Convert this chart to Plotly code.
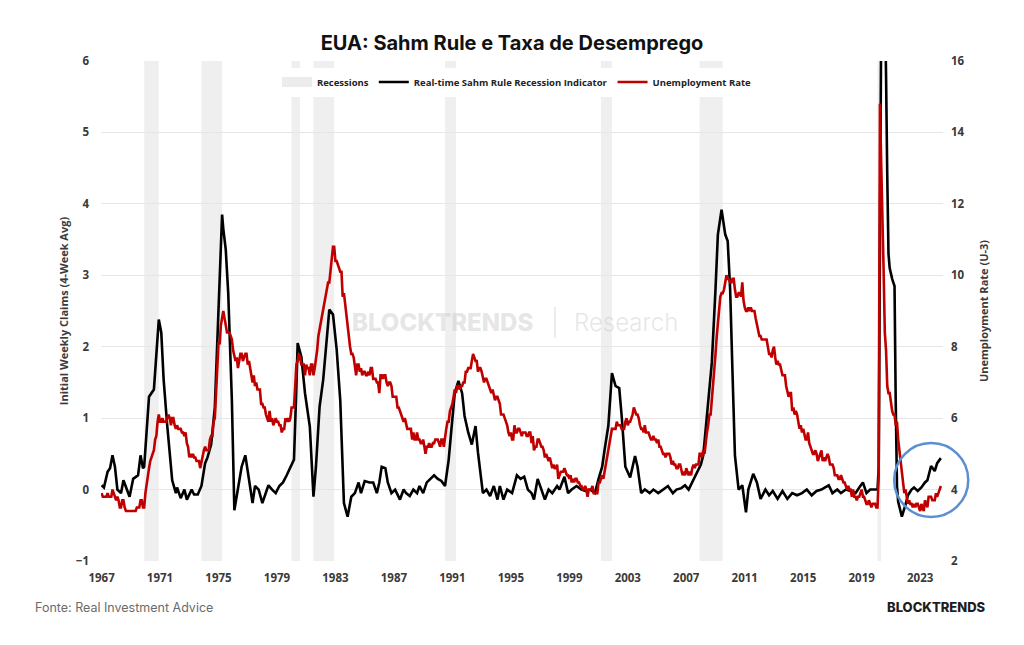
import plotly.graph_objects as go
import pandas as pd

# ---------------- data ----------------
title_text = "EUA: Sahm Rule e Taxa de Desemprego"

# Monthly unemployment rate (U-3), Jan 1967 .. Jun 2024
unemployment_start = "1967-01-01"
unemployment_rate = [
    3.9, 3.8, 3.8, 3.8, 3.8, 3.9, 3.8, 3.8, 3.8, 4.0, 3.9, 3.8,   # 1967
    3.7, 3.8, 3.7, 3.5, 3.5, 3.7, 3.7, 3.5, 3.4, 3.4, 3.4, 3.4,   # 1968
    3.4, 3.4, 3.4, 3.4, 3.4, 3.5, 3.5, 3.5, 3.7, 3.7, 3.5, 3.5,   # 1969
    3.9, 4.2, 4.4, 4.6, 4.8, 4.9, 5.0, 5.1, 5.4, 5.5, 5.9, 6.1,   # 1970
    5.9, 5.9, 6.0, 5.9, 5.9, 5.9, 6.0, 6.1, 6.0, 5.8, 6.0, 6.0,   # 1971
    5.8, 5.7, 5.8, 5.7, 5.7, 5.7, 5.6, 5.6, 5.5, 5.6, 5.3, 5.2,   # 1972
    4.9, 5.0, 4.9, 5.0, 4.9, 4.9, 4.8, 4.8, 4.8, 4.6, 4.8, 4.9,   # 1973
    5.1, 5.2, 5.1, 5.1, 5.1, 5.4, 5.5, 5.5, 5.9, 6.0, 6.6, 7.2,   # 1974
    8.1, 8.1, 8.6, 8.8, 9.0, 8.8, 8.6, 8.4, 8.4, 8.4, 8.3, 8.2,   # 1975
    7.9, 7.7, 7.6, 7.7, 7.4, 7.6, 7.8, 7.8, 7.6, 7.7, 7.8, 7.8,   # 1976
    7.5, 7.6, 7.4, 7.2, 7.0, 7.2, 6.9, 7.0, 6.8, 6.8, 6.8, 6.4,   # 1977
    6.4, 6.3, 6.3, 6.1, 6.0, 5.9, 6.2, 5.9, 6.0, 5.8, 5.9, 6.0,   # 1978
    5.9, 5.9, 5.8, 5.8, 5.6, 5.7, 5.7, 6.0, 5.9, 6.0, 5.9, 6.0,   # 1979
    6.3, 6.3, 6.3, 6.9, 7.5, 7.6, 7.8, 7.7, 7.5, 7.5, 7.5, 7.2,   # 1980
    7.5, 7.4, 7.4, 7.2, 7.5, 7.5, 7.2, 7.4, 7.6, 7.9, 8.3, 8.5,   # 1981
    8.6, 8.9, 9.0, 9.3, 9.4, 9.6, 9.8, 9.8, 10.1, 10.4, 10.8, 10.8,  # 1982
    10.4, 10.4, 10.3, 10.2, 10.1, 10.1, 9.4, 9.5, 9.2, 8.8, 8.5, 8.3,  # 1983
    8.0, 7.8, 7.8, 7.7, 7.4, 7.2, 7.5, 7.5, 7.3, 7.4, 7.2, 7.3,   # 1984
    7.3, 7.2, 7.2, 7.3, 7.2, 7.4, 7.4, 7.1, 7.1, 7.1, 7.0, 7.0,   # 1985
    6.7, 7.2, 7.2, 7.1, 7.2, 7.2, 7.0, 6.9, 7.0, 7.0, 6.9, 6.6,   # 1986
    6.6, 6.6, 6.6, 6.3, 6.3, 6.2, 6.1, 6.0, 5.9, 6.0, 5.8, 5.7,   # 1987
    5.7, 5.7, 5.7, 5.4, 5.6, 5.4, 5.4, 5.6, 5.4, 5.4, 5.3, 5.3,   # 1988
    5.4, 5.2, 5.0, 5.2, 5.2, 5.3, 5.2, 5.2, 5.3, 5.3, 5.4, 5.4,   # 1989
    5.4, 5.3, 5.2, 5.4, 5.4, 5.2, 5.5, 5.7, 5.9, 5.9, 6.2, 6.3,   # 1990
    6.4, 6.6, 6.8, 6.7, 6.9, 6.9, 6.8, 6.9, 6.9, 7.0, 7.0, 7.3,   # 1991
    7.3, 7.4, 7.4, 7.4, 7.6, 7.8, 7.7, 7.6, 7.6, 7.3, 7.4, 7.4,   # 1992
    7.3, 7.1, 7.0, 7.1, 7.1, 7.0, 6.9, 6.8, 6.7, 6.8, 6.6, 6.5,   # 1993
    6.6, 6.6, 6.5, 6.4, 6.1, 6.1, 6.1, 6.0, 5.9, 5.8, 5.6, 5.5,   # 1994
    5.6, 5.4, 5.4, 5.8, 5.6, 5.6, 5.7, 5.7, 5.6, 5.5, 5.6, 5.6,   # 1995
    5.6, 5.5, 5.5, 5.6, 5.6, 5.3, 5.5, 5.1, 5.2, 5.2, 5.4, 5.4,   # 1996
    5.3, 5.2, 5.2, 5.1, 4.9, 5.0, 4.9, 4.8, 4.9, 4.7, 4.6, 4.7,   # 1997
    4.6, 4.6, 4.7, 4.3, 4.4, 4.5, 4.5, 4.5, 4.6, 4.5, 4.4, 4.4,   # 1998
    4.3, 4.4, 4.2, 4.3, 4.2, 4.3, 4.3, 4.2, 4.2, 4.1, 4.1, 4.0,   # 1999
    4.0, 4.1, 4.0, 3.8, 4.0, 4.0, 4.0, 4.1, 3.9, 3.9, 3.9, 3.9,   # 2000
    4.2, 4.2, 4.3, 4.4, 4.3, 4.5, 4.6, 4.9, 5.0, 5.3, 5.5, 5.7,   # 2001
    5.7, 5.7, 5.7, 5.9, 5.8, 5.8, 5.8, 5.7, 5.7, 5.7, 5.9, 6.0,   # 2002
    5.8, 5.9, 5.9, 6.0, 6.1, 6.3, 6.2, 6.1, 6.1, 6.0, 5.8, 5.7,   # 2003
    5.7, 5.6, 5.8, 5.6, 5.6, 5.6, 5.5, 5.4, 5.4, 5.5, 5.4, 5.4,   # 2004
    5.3, 5.4, 5.2, 5.2, 5.1, 5.0, 5.0, 4.9, 5.0, 5.0, 5.0, 4.9,   # 2005
    4.7, 4.8, 4.7, 4.7, 4.6, 4.6, 4.7, 4.7, 4.5, 4.4, 4.5, 4.4,   # 2006
    4.6, 4.5, 4.4, 4.5, 4.4, 4.6, 4.7, 4.6, 4.7, 4.7, 4.7, 5.0,   # 2007
    5.0, 4.9, 5.1, 5.0, 5.4, 5.6, 5.8, 6.1, 6.1, 6.5, 6.8, 7.3,   # 2008
    7.8, 8.3, 8.7, 9.0, 9.4, 9.5, 9.5, 9.6, 9.8, 10.0, 9.9, 9.9,  # 2009
    9.8, 9.8, 9.9, 9.9, 9.6, 9.4, 9.4, 9.5, 9.5, 9.4, 9.8, 9.3,   # 2010
    9.1, 9.0, 9.0, 9.1, 9.0, 9.1, 9.0, 9.0, 9.0, 8.8, 8.6, 8.5,   # 2011
    8.3, 8.3, 8.2, 8.2, 8.2, 8.2, 8.2, 8.0, 7.8, 7.8, 7.7, 7.9,   # 2012
    8.0, 7.7, 7.5, 7.6, 7.5, 7.5, 7.3, 7.2, 7.2, 7.2, 6.9, 6.7,   # 2013
    6.6, 6.7, 6.7, 6.2, 6.3, 6.1, 6.2, 6.1, 5.9, 5.7, 5.8, 5.6,   # 2014
    5.7, 5.5, 5.4, 5.4, 5.6, 5.3, 5.2, 5.1, 5.0, 5.0, 5.1, 5.0,   # 2015
    4.8, 4.9, 5.0, 5.1, 4.8, 4.9, 4.8, 4.9, 5.0, 4.9, 4.7, 4.7,   # 2016
    4.7, 4.6, 4.4, 4.4, 4.4, 4.3, 4.3, 4.4, 4.3, 4.2, 4.2, 4.1,   # 2017
    4.0, 4.1, 4.0, 4.0, 3.8, 4.0, 3.8, 3.8, 3.7, 3.8, 3.8, 3.9,   # 2018
    4.0, 3.8, 3.8, 3.7, 3.6, 3.6, 3.7, 3.6, 3.5, 3.6, 3.6, 3.6,   # 2019
    3.5, 3.5, 4.4, 14.8, 13.2, 11.0, 10.2, 8.4, 7.9, 6.9, 6.7, 6.7,  # 2020
    6.4, 6.2, 6.1, 6.1, 5.8, 5.9, 5.4, 5.1, 4.7, 4.5, 4.2, 3.9,   # 2021
    4.0, 3.8, 3.6, 3.7, 3.6, 3.6, 3.5, 3.6, 3.5, 3.6, 3.6, 3.5,   # 2022
    3.4, 3.6, 3.5, 3.4, 3.7, 3.6, 3.5, 3.8, 3.8, 3.8, 3.7, 3.7,   # 2023
    3.7, 3.9, 3.8, 3.9, 4.0, 4.1,                                 # 2024
]

# Real-time Sahm Rule indicator
sahm_dates = [
    "1967-01", "1967-03", "1967-06", "1967-08", "1967-10", "1967-12",
    "1968-02", "1968-05", "1968-07", "1968-10", "1968-12",
    "1969-03", "1969-07", "1969-09", "1969-11", "1969-12",
    "1970-03", "1970-04", "1970-08", "1970-10", "1970-12",
    "1971-02", "1971-04", "1971-07", "1971-11",
    "1972-02", "1972-03", "1972-06", "1972-09", "1972-11",
    "1973-03", "1973-05", "1973-08", "1973-11",
    "1974-02", "1974-04", "1974-07", "1974-10",
    "1975-01", "1975-02", "1975-03", "1975-04", "1975-05", "1975-07", "1975-09", "1975-12",
    "1976-02", "1976-05", "1976-08", "1976-11",
    "1977-01", "1977-05", "1977-07", "1977-10",
    "1978-01", "1978-04", "1978-06", "1978-09", "1978-12",
    "1979-03", "1979-06", "1979-09", "1979-12",
    "1980-03", "1980-05", "1980-06", "1980-09", "1980-12",
    "1981-04", "1981-07", "1981-09", "1981-12",
    "1982-03", "1982-06", "1982-08", "1982-11",
    "1983-02", "1983-05", "1983-08", "1983-11",
    "1984-02", "1984-05", "1984-08", "1984-10",
    "1985-01", "1985-05", "1985-08", "1985-11",
    "1986-01", "1986-03", "1986-06", "1986-08", "1986-11",
    "1987-02", "1987-06", "1987-09", "1987-11",
    "1988-02", "1988-05", "1988-08", "1988-10",
    "1989-01", "1989-04", "1989-07", "1989-10",
    "1990-01", "1990-04", "1990-07", "1990-10", "1990-12",
    "1991-03", "1991-06", "1991-09", "1991-11",
    "1992-02", "1992-05", "1992-08", "1992-10",
    "1993-02", "1993-05", "1993-08", "1993-11",
    "1994-02", "1994-04", "1994-07", "1994-10",
    "1995-02", "1995-06", "1995-09", "1995-12",
    "1996-03", "1996-06", "1996-08", "1996-11",
    "1997-02", "1997-05", "1997-08", "1997-11",
    "1998-03", "1998-05", "1998-09", "1998-12",
    "1999-03", "1999-07", "1999-11",
    "2000-02", "2000-06", "2000-10",
    "2001-01", "2001-04", "2001-06", "2001-09", "2001-12",
    "2002-03", "2002-06", "2002-08", "2002-11",
    "2003-03", "2003-07", "2003-09", "2003-12",
    "2004-03", "2004-07", "2004-10",
    "2005-02", "2005-06", "2005-10",
    "2006-02", "2006-05", "2006-09", "2006-12",
    "2007-03", "2007-06", "2007-10",
    "2008-01", "2008-03", "2008-06", "2008-10",
    "2009-01", "2009-03", "2009-06", "2009-09", "2009-11",
    "2010-01", "2010-03", "2010-05", "2010-08", "2010-11",
    "2011-02", "2011-04", "2011-08", "2011-11",
    "2012-02", "2012-06", "2012-09", "2012-12",
    "2013-04", "2013-08", "2013-12",
    "2014-04", "2014-08", "2014-12",
    "2015-04", "2015-08", "2015-12",
    "2016-04", "2016-07", "2016-10",
    "2017-01", "2017-05", "2017-08", "2017-12",
    "2018-04", "2018-08", "2018-11",
    "2019-02", "2019-05", "2019-08", "2019-12",
    "2020-02", "2020-03", "2020-04", "2020-05", "2020-06", "2020-07", "2020-08",
    "2020-09", "2020-10", "2020-11", "2020-12",
    "2021-01", "2021-02", "2021-03", "2021-04", "2021-05", "2021-06", "2021-07", "2021-10",
    "2022-01", "2022-03", "2022-06", "2022-08", "2022-11",
    "2023-02", "2023-05", "2023-07", "2023-10",
    "2024-01", "2024-03", "2024-06",
]
sahm_values = [
    0.06, 0.03, 0.25, 0.30, 0.48, 0.32,
    0.00, -0.05, 0.13, 0.00, -0.10,
    0.15, 0.20, 0.48, 0.30, 0.32,
    1.07, 1.30, 1.40, 1.96, 2.38,
    2.20, 1.54, 0.89, 0.13,
    -0.05, 0.03, -0.12, 0.00, -0.14,
    0.00, -0.07, -0.07, 0.05,
    0.37, 0.45, 0.63, 1.15,
    2.60, 3.20, 3.50, 3.85, 3.65, 3.36, 2.75, 1.25,
    -0.29, 0.00, 0.32, 0.48,
    0.23, -0.19, 0.05, 0.00,
    -0.19, -0.05, 0.06, 0.00, -0.05,
    0.05, 0.10, 0.20, 0.30,
    0.42, 1.45, 2.05, 1.86, 1.35,
    0.88, -0.10, 0.32, 1.16,
    1.54, 2.10, 2.52, 2.45,
    1.96, 1.25, -0.19, -0.38,
    -0.10, -0.05, 0.10, -0.05,
    0.12, 0.10, 0.10, -0.05,
    0.10, 0.32, 0.30, 0.10, -0.05,
    0.00, -0.14, 0.00, -0.05,
    -0.09, 0.00, -0.05, 0.05,
    -0.05, 0.10, 0.15, 0.20,
    0.15, 0.12, 0.05, 0.42, 0.80,
    1.35, 1.52, 1.35, 1.03,
    0.80, 0.63, 0.89, 0.52,
    -0.05, 0.00, -0.09, 0.05,
    -0.14, 0.05, -0.14, 0.00,
    -0.05, 0.20, 0.15, 0.18,
    0.00, -0.05, -0.14, 0.15,
    0.00, -0.14, 0.00, -0.05,
    0.05, 0.00, 0.18, -0.05,
    0.00, 0.05, 0.00,
    -0.02, 0.00, -0.05,
    0.15, 0.32, 0.56, 0.89, 1.63,
    1.45, 1.42, 1.03, 0.32,
    0.17, 0.47, 0.32, -0.05,
    0.00, -0.05, 0.00,
    -0.05, 0.00, 0.05,
    -0.05, 0.00, 0.02, 0.06,
    0.00, 0.10, 0.23,
    0.35, 0.48, 1.03, 1.78,
    2.81, 3.57, 3.92, 3.57, 3.48,
    2.81, 1.64, 0.48, 0.00, 0.06,
    -0.32, 0.00, 0.22, 0.10,
    -0.13, 0.00, -0.08, -0.02,
    -0.13, -0.02, -0.13,
    -0.05, -0.08, -0.05,
    0.00, -0.08, -0.02,
    0.00, 0.03, 0.06,
    -0.05, 0.00, -0.05, 0.00,
    -0.02, -0.05, 0.03,
    0.10, -0.05, 0.00, 0.00,
    0.00, 0.30, 4.10, 7.30, 9.50, 8.00, 7.00,
    5.80, 4.40, 3.30, 3.10,
    3.00, 2.95, 2.90, 2.85, 1.20, 0.05, -0.17, -0.38,
    -0.21, -0.08, 0.00, 0.03, -0.02,
    0.03, 0.10, 0.13, 0.33,
    0.26, 0.37, 0.44,
]

recession_starts = ["1969-12-01", "1973-11-01", "1980-01-01", "1981-07-01",
                    "1990-07-01", "2001-03-01", "2007-12-01", "2020-02-01"]
recession_ends = ["1970-11-30", "1975-03-31", "1980-07-31", "1982-11-30",
                  "1991-03-31", "2001-11-30", "2009-06-30", "2020-04-30"]

x_tick_years = list(range(1967, 2024, 4))
left_ticks = [-1, 0, 1, 2, 3, 4, 5, 6]
right_ticks = [2, 4, 6, 8, 10, 12, 14, 16]

# ---------------- figure ----------------
unemp_dates = pd.date_range(unemployment_start, periods=len(unemployment_rate), freq="MS")
sahm_x = pd.to_datetime([d + "-01" for d in sahm_dates])

tick_font = dict(family="Open Sans, Arial, sans-serif", size=11.5, color="#3a3a3a", weight=700)

fig = go.Figure()

fig.add_trace(go.Scatter(
    x=[None], y=[None], mode="lines", name="Recessions",
    line=dict(color="#ececec", width=10), hoverinfo="skip"))

fig.add_trace(go.Scatter(
    x=sahm_x, y=sahm_values, mode="lines",
    name="Real-time Sahm Rule Recession Indicator",
    line=dict(color="#000000", width=2.6), yaxis="y"))

fig.add_trace(go.Scatter(
    x=unemp_dates, y=unemployment_rate, mode="lines",
    name="Unemployment Rate",
    line=dict(color="#c00000", width=2.6), yaxis="y2"))

shapes = []
for s, e in zip(recession_starts, recession_ends):
    shapes.append(dict(type="rect", xref="x", yref="paper", x0=s, x1=e, y0=0, y1=1,
                       fillcolor="#efefef", line=dict(width=0), layer="below"))

# highlight circle around latest data
shapes.append(dict(type="circle", xref="paper", yref="paper",
                   x0=0.942, x1=1.030, y0=0.088, y1=0.236,
                   line=dict(color="#5b8fd2", width=2.5), fillcolor="rgba(0,0,0,0)"))

# watermark separator
shapes.append(dict(type="line", xref="paper", yref="paper",
                   x0=0.5392, x1=0.5392, y0=0.446, y1=0.508,
                   line=dict(color="rgba(200,200,200,0.45)", width=1.5)))

annotations = [
    dict(text="BLOCKTRENDS", xref="paper", yref="paper", x=0.5154, y=0.478,
         xanchor="right", yanchor="middle", showarrow=False,
         font=dict(family="Inter, sans-serif", size=24, color="rgba(200,200,200,0.45)", weight=800)),
    dict(text="Research", xref="paper", yref="paper", x=0.5594, y=0.478,
         xanchor="left", yanchor="middle", showarrow=False,
         font=dict(family="Inter, sans-serif", size=24, color="rgba(200,200,200,0.45)", weight=300)),
    dict(text="Fonte: Real Investment Advice", xref="paper", yref="paper",
         x=-0.0808, y=-0.092, xanchor="left", yanchor="middle", showarrow=False,
         font=dict(family="Inter, sans-serif", size=12.5, color="#6b6b6b")),
    dict(text="BLOCKTRENDS", xref="paper", yref="paper",
         x=1.0535, y=-0.092, xanchor="right", yanchor="middle", showarrow=False,
         font=dict(family="Inter, sans-serif", size=13, color="#1e1e1e", weight=800)),
]

fig.update_layout(
    width=1024, height=645,
    paper_bgcolor="white", plot_bgcolor="white",
    margin=dict(l=101, r=81, t=61, b=84),
    title=dict(text="<b>" + title_text + "</b>", x=0.5, xanchor="center",
               y=1 - 43 / 645, yanchor="middle", yref="container",
               font=dict(family="Inter, sans-serif", size=20, color="#111111")),
    showlegend=True,
    legend=dict(orientation="h", x=0.494, xanchor="center", y=0.958, yanchor="middle",
                bgcolor="white", borderwidth=0, itemwidth=30,
                font=dict(family="Open Sans, Arial, sans-serif", size=9.5, color="#222222", weight=700),
                tracegroupgap=0, itemclick=False),
    xaxis=dict(type="date", range=["1966-12-18", "2024-07-25"],
               tickvals=[f"{y}-01-01" for y in x_tick_years],
               ticktext=[str(y) for y in x_tick_years],
               showgrid=False, zeroline=False, showline=False, ticks="",
               ticklabelstandoff=8,
               tickfont=tick_font),
    yaxis=dict(range=[-1, 6], tickvals=left_ticks, showgrid=True, gridcolor="#e6e6e6",
               gridwidth=1, zeroline=False, showline=False, ticks="",
               ticklabelstandoff=11,
               tickfont=tick_font,
               title=dict(text="Initial Weekly Claims (4-Week Avg)", standoff=4,
                          font=dict(family="Open Sans, Arial, sans-serif", size=11, color="#3a3a3a", weight=700))),
    yaxis2=dict(range=[2, 16], tickvals=right_ticks, overlaying="y", side="right",
                showgrid=False, zeroline=False, showline=False, ticks="",
                ticklabelstandoff=7,
                tickfont=tick_font,
                title=dict(text="Unemployment Rate (U-3)", standoff=16,
                           font=dict(family="Open Sans, Arial, sans-serif", size=11, color="#3a3a3a", weight=700))),
    shapes=shapes,
    annotations=annotations,
)

fig.write_html("out.html")
